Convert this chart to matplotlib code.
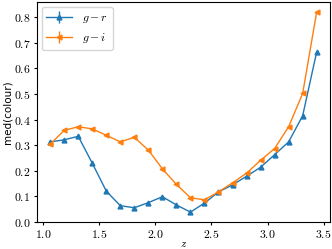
import matplotlib
matplotlib.use("Agg")
import matplotlib.pyplot as plt
from matplotlib.ticker import FuncFormatter, MultipleLocator

plt.rcParams['mathtext.fontset'] = 'cm'

# redshift bin centres
z = [1.0625, 1.1875, 1.3125, 1.4375, 1.5625, 1.6875, 1.8125, 1.9375, 2.0625, 2.1875,
     2.3125, 2.4375, 2.5625, 2.6875, 2.8125, 2.9375, 3.0625, 3.1875, 3.3125, 3.4375]

g_r = [0.313, 0.321, 0.335, 0.230, 0.121, 0.064, 0.056, 0.076, 0.099, 0.067,
       0.039, 0.074, 0.118, 0.145, 0.179, 0.214, 0.263, 0.313, 0.415, 0.664]
g_i = [0.304, 0.358, 0.372, 0.364, 0.339, 0.313, 0.331, 0.281, 0.208, 0.147,
       0.095, 0.087, 0.118, 0.153, 0.191, 0.241, 0.287, 0.372, 0.502, 0.820]

err_r = [0.0] * len(z)
err_i = [0.0] * len(z)

fig, ax = plt.subplots(figsize=(3.32, 2.49), dpi=100)
fig.subplots_adjust(left=0.111, right=0.994, top=0.992, bottom=0.108)

ax.errorbar(z, g_r, yerr=err_r, marker='^', ms=3.5, lw=1.0, color='#1f77b4', label='$g-r$')
ax.errorbar(z, g_i, yerr=err_i, marker='<', ms=3.5, lw=1.0, color='#ff7f0e', label='$g-i$')

fmt = FuncFormatter(lambda v, p: f'${v:.1f}$')
ax.xaxis.set_major_locator(MultipleLocator(0.5))
ax.yaxis.set_major_locator(MultipleLocator(0.1))
ax.xaxis.set_major_formatter(fmt)
ax.yaxis.set_major_formatter(fmt)
ax.tick_params(labelsize=8.5, length=2.5, width=0.8, pad=2)
for s in ax.spines.values():
    s.set_linewidth(0.8)

ax.set_xlabel('$z$', fontsize=8, labelpad=-2)
ax.set_ylabel('med(colour)', fontsize=7.5, labelpad=1)
ax.legend(loc='upper left', fontsize=8.5, handlelength=2.2, borderaxespad=0.4)

fig.savefig('out.png', dpi=100)
